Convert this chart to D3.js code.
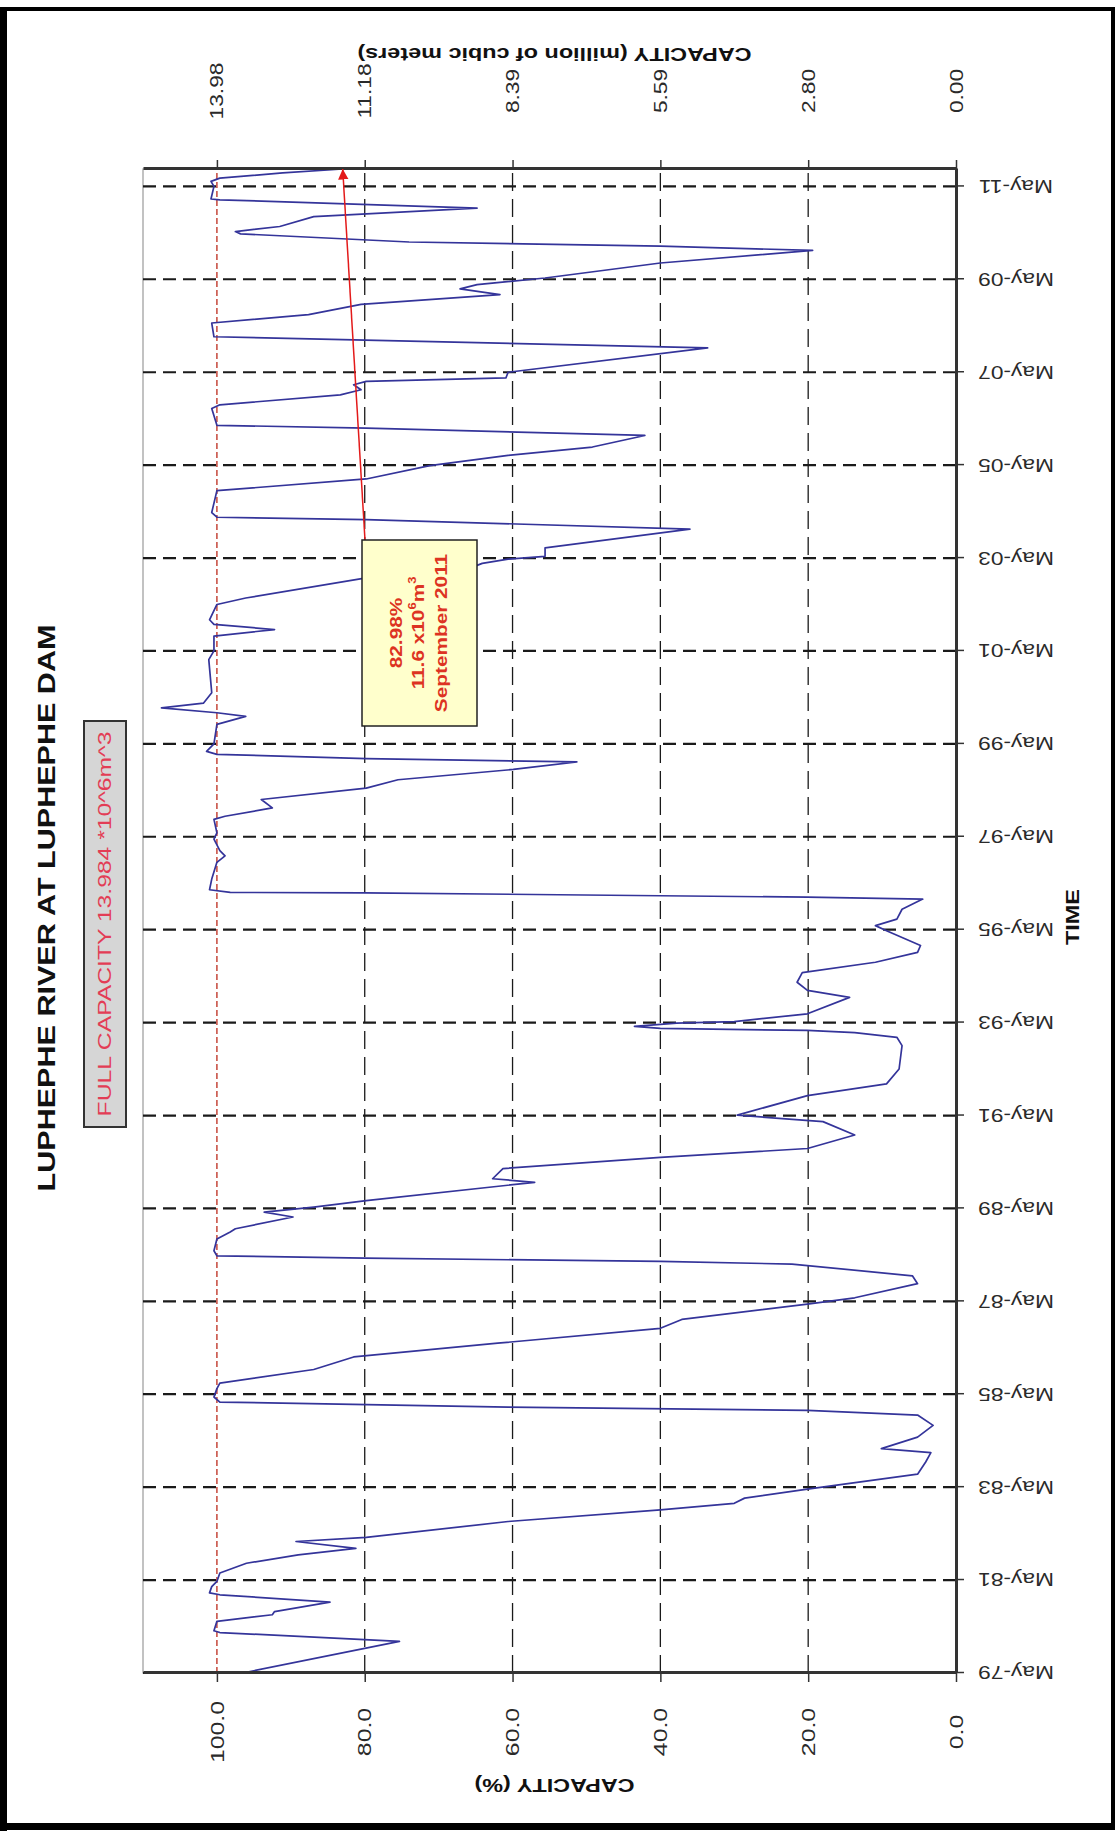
<!DOCTYPE html>
<html><head><meta charset="utf-8">
<script src="https://cdn.jsdelivr.net/npm/d3@7"></script>
<style>
html,body{margin:0;padding:0;background:#fff;}
svg text{font-family:"Liberation Sans", Arial, sans-serif;}
</style></head><body>
<svg id="chart" width="1117" height="1833"></svg>
<script>
// ---------------- DATA ----------------
const dates = [
"1979-05-01","1980-01-05","1980-03-14","1980-03-28","1980-06-10","1980-08-01","1980-08-26","1980-11-08",
"1981-01-05","1981-01-20","1981-03-10","1981-04-20","1981-06-25","1981-09-10","1981-11-15","1982-01-05",
"1982-02-28","1982-04-01","1982-08-04","1982-11-04","1982-12-25","1983-02-04","1983-04-16","1983-08-11",
"1983-11-15","1984-01-27","1984-02-28","1984-05-29","1984-08-29","1984-11-18","1984-12-25","1985-01-20",
"1985-02-28","1985-04-09","1985-06-14","1985-07-27","1985-11-11","1986-02-18","1986-06-06","1986-10-01",
"1986-12-10","1987-04-09","1987-05-29","1987-09-17","1987-11-18","1988-02-18","1988-03-10","1988-04-05",
"1988-04-23","1988-06-02","1988-09-02","1988-10-27","1988-11-22","1989-02-22","1989-04-01","1989-05-11",
"1989-07-01","1989-11-22","1989-12-20","1990-03-10","1990-06-06","1990-08-15","1990-11-29","1991-03-14",
"1991-05-04","1991-10-05","1992-01-05","1992-05-01","1992-11-01","1993-01-05","1993-02-11","1993-02-28",
"1993-03-17","1993-04-01","1993-04-27","1993-05-08","1993-07-09","1993-11-15","1994-01-09","1994-03-14",
"1994-05-29","1994-08-18","1994-11-04","1994-12-28","1995-04-23","1995-06-02","1995-07-23","1995-10-09",
"1995-12-28","1996-01-12","1996-01-23","1996-02-15","1996-02-18","1996-03-10","1996-06-02","1996-10-12",
"1996-12-02","1997-01-12","1997-04-12","1997-06-01","1997-09-14","1997-10-09","1997-12-14","1998-02-18",
"1998-05-18","1998-07-23","1998-10-12","1998-12-10","1999-01-05","1999-02-08","1999-03-03","1999-05-01",
"1999-10-01","1999-12-03","2000-01-01","2000-02-08","2000-03-17","2000-06-06","2001-02-22","2001-05-01",
"2001-08-26","2001-10-16","2001-11-26","2002-01-01","2002-05-01","2002-06-21","2002-11-26","2003-02-15",
"2003-03-20","2003-04-23","2003-05-15","2003-07-20","2003-12-14","2004-02-28","2004-03-17","2004-04-23",
"2004-10-12","2005-01-12","2005-04-27","2005-07-16","2005-09-20","2005-12-20","2006-02-15","2006-03-10",
"2006-07-20","2006-08-18","2006-11-04","2006-12-14","2007-01-23","2007-02-18","2007-03-17","2007-05-01",
"2007-11-08","2008-02-04","2008-05-22","2008-07-27","2008-10-16","2009-01-01","2009-02-15","2009-03-20",
"2009-05-11","2009-09-06","2009-12-14","2010-01-16","2010-02-18","2010-04-23","2010-05-11","2010-06-20",
"2010-09-06","2010-11-11","2011-01-16","2011-01-22","2011-05-01","2011-06-10","2011-07-05","2011-08-15",
"2011-09-15"];
const capacityPct = [
96.5,75.3,99.6,100.4,100.0,92.5,92.2,84.7,
99.6,101.0,100.7,100.0,99.6,96.0,89.0,81.2,
89.3,79.8,60.6,40.0,30.0,28.6,20.1,5.2,
4.1,3.4,10.1,5.2,3.1,5.2,20.1,60.6,
99.6,100.4,100.0,99.6,86.9,81.5,62.0,40.0,
37.1,20.1,13.7,5.2,5.9,22.2,40.0,80.0,
100.0,100.4,100.0,98.2,97.5,89.7,93.6,86.9,
79.8,57.0,62.7,61.3,40.0,20.1,13.7,18.0,
29.6,20.1,9.4,7.7,7.3,8.0,13.7,20.1,
40.0,43.5,37.8,30.0,20.1,14.4,20.1,21.5,
20.8,10.9,5.2,4.8,9.4,10.9,8.0,7.3,
4.5,20.1,40.0,80.0,98.2,101.0,100.7,100.0,
98.9,99.6,100.4,100.0,100.4,98.9,92.5,94.0,
79.8,75.5,59.9,51.3,79.8,100.0,101.4,100.4,
100.0,96.1,100.0,107.5,101.8,100.7,101.1,100.4,
100.4,92.2,100.4,101.0,100.0,96.1,79.8,65.6,
64.1,60.6,55.6,55.6,36.0,79.8,100.0,100.7,
100.0,79.8,71.2,60.6,49.2,42.1,79.8,100.0,
100.7,99.6,83.3,80.5,81.5,79.8,60.9,60.6,
33.6,100.4,100.7,87.6,80.5,61.7,67.1,64.8,
55.6,40.0,19.4,40.0,74.0,96.8,97.5,91.5,
86.9,64.8,99.6,100.8,100.4,100.8,99.6,91.1,
82.98];
const pctTicks = [0,20,40,60,80,100];
const pctTickLabels = ["0.0","20.0","40.0","60.0","80.0","100.0"];
const volTickLabels = ["0.00","2.80","5.59","8.39","11.18","13.98"];
const timeTickLabels = ["May-79","May-81","May-83","May-85","May-87","May-89","May-91","May-93","May-95",
  "May-97","May-99","May-01","May-03","May-05","May-07","May-09","May-11"];
const titleText = "LUPHEPHE RIVER AT LUPHEPHE DAM";
const fullCapText = "FULL CAPACITY 13.984 *10^6m^3";
const leftAxisTitle = "CAPACITY (%)";
const rightAxisTitle = "CAPACITY (million of cubic meters)";
const timeAxisTitle = "TIME";
const notePct = "82.98%";
const noteVol = ["11.6 x10","6","m","3"];
const noteDate = "September 2011";

// ---------------- LAYOUT ----------------
const W = 1833, H = 1117;          // original (unrotated) chart size
const U0 = 160, U1 = 1664;         // plot horizontal extent (original)
const V0 = 143, V1 = 956;          // plot vertical extent (original)
const SX = 1.3;                    // text stretch along reading direction

const parse = d3.timeParse("%Y-%m-%d");
const series = dates.map((d,i)=>({date: parse(d), v: capacityPct[i]}));
const timeTicks = timeTickLabels.map(d3.timeParse("%b-%y"));

const x = d3.scaleTime().domain([series[0].date, series[series.length-1].date]).range([U0, U1]);
const y = d3.scaleLinear().domain([0, 110]).range([V1, V0]);

const svg = d3.select("#chart");
svg.append("rect").attr("width",1117).attr("height",1833).attr("fill","#fff");

const g = svg.append("g").attr("transform", `translate(0,${W}) rotate(-90)`);

function addText(parent, u, v, str, o) {
  const t = parent.append("text")
    .attr("transform", `translate(${u},${v}) rotate(${o.rotate||0}) scale(${o.sx||SX},1)`)
    .attr("text-anchor", "middle").attr("dominant-baseline", "central")
    .style("font-size", o.size + "px").style("font-weight", o.weight || "normal")
    .attr("fill", o.fill || "#000");
  if (str !== null) t.text(str);
  return t;
}

// plot area border
g.append("rect").attr("x",U0).attr("y",V0).attr("width",U1-U0).attr("height",V1-V0)
  .attr("fill","#fff").attr("stroke","#9a9a9a").attr("stroke-width",1.2);

// value gridlines
g.append("g").selectAll("line").data(pctTicks.filter(d=>d>0 && d<100)).join("line")
  .attr("x1",U0).attr("x2",U1).attr("y1",d=>y(d)).attr("y2",d=>y(d))
  .attr("stroke","#1a1a1a").attr("stroke-width",1.3).attr("stroke-dasharray","18,8");

// time gridlines
g.append("g").selectAll("line").data(timeTicks).join("line")
  .attr("x1",d=>x(d)).attr("x2",d=>x(d)).attr("y1",V0).attr("y2",V1)
  .attr("stroke","#1a1a1a").attr("stroke-width",2.2).attr("stroke-dasharray","13,7");

// full capacity line
g.append("line").attr("x1",U0).attr("x2",U1).attr("y1",y(100)).attr("y2",y(100))
  .attr("stroke","#c0392b").attr("stroke-width",1.4).attr("stroke-dasharray","6,3");

// series
g.append("path").datum(series)
  .attr("d", d3.line().x(d=>x(d.date)).y(d=>y(d.v)))
  .attr("fill","none").attr("stroke","#34349a").attr("stroke-width",1.7).attr("stroke-linejoin","round");

// axes
const axStroke = "#333";
const gX = g.append("g").attr("transform",`translate(0,${V1})`)
  .call(d3.axisBottom(x).tickValues(timeTicks).tickFormat((d,i)=>timeTickLabels[i]).tickSize(8).tickSizeOuter(0));
const gY = g.append("g").attr("transform",`translate(${U0},0)`)
  .call(d3.axisLeft(y).tickValues(pctTicks).tickFormat((d,i)=>pctTickLabels[i]).tickSize(9).tickSizeOuter(0));
const gY2 = g.append("g").attr("transform",`translate(${U1},0)`)
  .call(d3.axisRight(y).tickValues(pctTicks).tickFormat((d,i)=>volTickLabels[i]).tickSize(9).tickSizeOuter(0));
[gX,gY,gY2].forEach(a=>{
  a.select(".domain").attr("stroke",axStroke).attr("stroke-width",3);
  a.selectAll(".tick line").attr("stroke",axStroke).attr("stroke-width",1.5);
  a.selectAll(".tick text").attr("x",null).attr("y",null).attr("dy",null)
    .attr("text-anchor","middle").attr("dominant-baseline","central")
    .style("font-size","17.5px").attr("fill","#2a2a2a");
});
gX.selectAll(".tick text").attr("transform",`translate(0,60) rotate(-90) scale(${SX},1)`);
gY.selectAll(".tick text").style("font-size","18px").attr("transform",`translate(-59,0) scale(1.38,1)`);
gY2.selectAll(".tick text").attr("transform",`translate(78,0) scale(${SX},1)`);

// axis titles
addText(g, 48, (V0+V1)/2+5, leftAxisTitle, {size:18, weight:"bold", rotate:-90, fill:"#111"});
addText(g, 1779, (V0+V1)/2+5, rightAxisTitle, {size:18, weight:"bold", rotate:-90, fill:"#111"});
addText(g, 916, 1073, timeAxisTitle, {size:18, weight:"bold", fill:"#111"});

// chart title
addText(g, 925, 47, titleText, {size:23.5, weight:"bold", fill:"#111"});

// full capacity box
g.append("rect").attr("x",706).attr("y",84).attr("width",406).attr("height",42)
  .attr("fill","#d6d6d6").attr("stroke","#333").attr("stroke-width",2);
addText(g, 909, 105, fullCapText, {size:19, fill:"#e33d55"});

// annotation box and arrow
const boxU0 = 1107, boxU1 = 1293, boxV0 = 362, boxV1 = 477;
const last = series[series.length-1];
const defs = svg.append("defs");
defs.append("marker").attr("id","arr").attr("viewBox","0 0 10 10").attr("refX",10).attr("refY",5)
  .attr("markerWidth",7).attr("markerHeight",7).attr("orient","auto-start-reverse")
  .append("path").attr("d","M0,0L10,5L0,10z").attr("fill","#e31a1a");
g.append("line").attr("x1",boxU1).attr("y1",boxV0+3).attr("x2",x(last.date)).attr("y2",y(last.v))
  .attr("stroke","#e31a1a").attr("stroke-width",1.5).attr("marker-end","url(#arr)");
g.append("rect").attr("x",boxU0).attr("y",boxV0).attr("width",boxU1-boxU0).attr("height",boxV1-boxV0)
  .attr("fill","#ffffcc").attr("stroke","#222").attr("stroke-width",1.5);
const noteColor = "#dd3322";
addText(g, 1200, 396, notePct, {size:16, weight:"bold", fill:noteColor});
const tv = addText(g, 1200, 418, null, {size:16, weight:"bold", fill:noteColor});
tv.append("tspan").text(noteVol[0]);
tv.append("tspan").attr("baseline-shift","super").style("font-size","10px").text(noteVol[1]);
tv.append("tspan").text(noteVol[2]);
tv.append("tspan").attr("baseline-shift","super").style("font-size","10px").text(noteVol[3]);
addText(g, 1200, 441, noteDate, {size:16, weight:"bold", fill:noteColor});

// outer frame (screen coordinates)
svg.append("rect").attr("x",2).attr("y",9).attr("width",1111).attr("height",1818)
  .attr("fill","none").attr("stroke","#000").attr("stroke-width",4);
svg.append("rect").attr("x",0).attr("y",7).attr("width",7).attr("height",1824).attr("fill","#000");
svg.append("rect").attr("x",0).attr("y",1823).attr("width",1115).attr("height",7).attr("fill","#000");
</script>
</body></html>
